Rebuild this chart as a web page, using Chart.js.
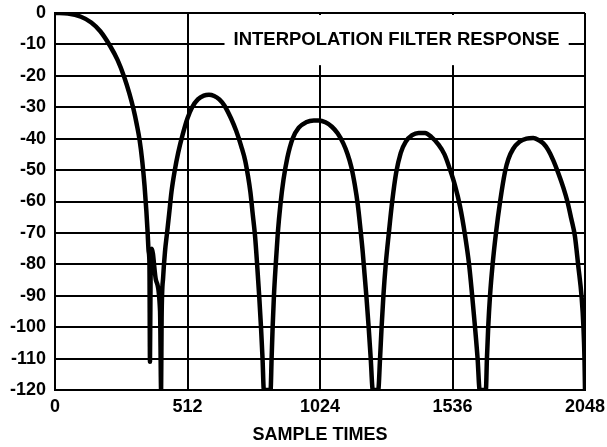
<!DOCTYPE html>
<html>
<head>
<meta charset="utf-8">
<script src="https://cdn.jsdelivr.net/npm/chart.js@4/dist/chart.umd.min.js"></script>
<style>
  html, body { margin: 0; padding: 0; background: #ffffff; }
  #wrap { width: 607px; height: 447px; }
</style>
</head>
<body>
<div id="wrap"><canvas id="c" width="607" height="447"></canvas></div>
<script>
// ---- data ----
const sampleTimes = [
  0, 50, 100, 140, 175, 213, 242, 268, 287, 303, 316, 327, 337, 346, 353, 358, 362, 365, 367, 370, 374, 390, 406, 410,
  412, 418, 425, 433, 441, 450, 462, 476, 494, 512, 530, 552, 575, 595, 615, 635, 655, 680, 700, 720, 735, 745, 755, 764, 773, 781, 789, 796, 802, 807,
  833, 837, 841, 846, 853, 861, 871, 883, 898, 918, 942, 970, 1000, 1020, 1045, 1070, 1092, 1114, 1130, 1145, 1158, 1170, 1180, 1189, 1196, 1204, 1212, 1220, 1228,
  1249, 1256, 1262, 1269, 1278, 1290, 1303, 1318, 1336, 1355, 1380, 1405, 1430, 1455, 1481, 1505, 1525, 1546, 1565, 1584, 1600, 1612, 1623, 1633, 1641,
  1665, 1669, 1674, 1681, 1691, 1704, 1720, 1739, 1752, 1770, 1795, 1822, 1848, 1870, 1887, 1905, 1925, 1945, 1964, 1980, 1995, 2009, 2022, 2035, 2042, 2046, 2048
];
const responseDb = [
  0, -0.2, -1.2, -3, -5.8, -10.5, -15, -20.5, -25.5, -30.5, -35.5, -40.5, -47, -55, -63, -70, -76, -80, -111, -77, -75, -85, -95, -120,
  -97, -84, -76, -70, -64, -57, -50.5, -44.5, -38.5, -33.5, -30, -27.5, -26.3, -26, -26.4, -27.5, -29.5, -33.5, -37.5, -42.5, -47, -51.5, -57, -64, -71, -80, -90, -100, -110, -120,
  -120, -110, -100, -90, -80, -70, -61, -53, -46, -40, -36.5, -34.8, -34.2, -34.2, -34.8, -36.2, -38.3, -41.5, -44.8, -49, -54.5, -61, -68.5, -76, -83, -91, -100, -110, -120,
  -120, -110, -100, -90, -80, -70, -60, -51, -44.5, -41, -38.9, -38.2, -38.2, -39.5, -41.8, -45, -49.5, -55, -61.5, -70.5, -80, -90, -100, -110, -120,
  -120, -110, -100, -90, -80, -70, -60, -50.5, -46.5, -43.3, -41, -40, -39.8, -40.5, -41.5, -43.5, -46.8, -51, -55.5, -60, -65.5, -71, -80.5, -90.5, -100, -110, -120
];
const xTickValues = [0, 512, 1024, 1536, 2048];
const yTickValues = [0, -10, -20, -30, -40, -50, -60, -70, -80, -90, -100, -110, -120];
const plotTitle = 'INTERPOLATION FILTER RESPONSE';
const xAxisTitle = 'SAMPLE TIMES';

const points = sampleTimes.map((s, i) => ({ x: s, y: responseDb[i] }));
const FONT = '"Liberation Sans", Arial, Helvetica, sans-serif';

const titleBoxPlugin = {
  id: 'titleBox',
  beforeDatasetsDraw(chart) {
    const { ctx, scales } = chart;
    const xs = scales.x, ys = scales.y;
    const left = xs.getPixelForValue(655);
    const right = xs.getPixelForValue(1985);
    const top = ys.getPixelForValue(0) + 2;
    const bottom = ys.getPixelForValue(-16.6);
    ctx.save();
    ctx.fillStyle = '#ffffff';
    ctx.fillRect(left, top, right - left, bottom - top);
    ctx.fillStyle = '#000000';
    ctx.font = 'bold 18.5px ' + FONT;
    ctx.textAlign = 'center';
    ctx.textBaseline = 'middle';
    ctx.fillText(plotTitle, (left + right) / 2, ys.getPixelForValue(-8.6));
    ctx.restore();
  }
};

new Chart(document.getElementById('c'), {
  type: 'line',
  data: {
    datasets: [{
      data: points,
      borderColor: '#000000',
      borderWidth: 4.5,
      pointRadius: 0,
      fill: false,
      cubicInterpolationMode: 'monotone',
      borderJoinStyle: 'round'
    }]
  },
  options: {
    responsive: false,
    animation: false,
    devicePixelRatio: 1,
    layout: { padding: { left: 0, right: 22, top: 13, bottom: 0 } },
    plugins: { legend: { display: false }, tooltip: { enabled: false }, title: { display: false } },
    scales: {
      x: {
        type: 'linear',
        min: 0, max: 2048,
        afterBuildTicks(scale) { scale.ticks = xTickValues.map(v => ({ value: v })); },
        afterFit(scale) { scale.height = 57; scale.paddingRight = 0; scale.paddingLeft = 0; },
        grid: { color: '#000000', lineWidth: 2, drawTicks: false },
        border: { color: '#000000', width: 2 },
        ticks: {
          color: '#000000', padding: 6, maxRotation: 0, autoSkip: false,
          callback: (v) => String(v),
          font: { family: FONT, size: 18, weight: 'bold' }
        },
        title: {
          display: true, text: xAxisTitle, color: '#000000',
          padding: { top: 0, bottom: 1 },
          font: { family: FONT, size: 18, weight: 'bold' }
        }
      },
      y: {
        type: 'linear',
        min: -120, max: 0,
        afterBuildTicks(scale) { scale.ticks = yTickValues.map(v => ({ value: v })); },
        afterFit(scale) { scale.width = 55; scale.paddingTop = 0; scale.paddingBottom = 0; },
        grid: { color: '#000000', lineWidth: 2, drawTicks: false },
        border: { color: '#000000', width: 2 },
        ticks: {
          color: '#000000', padding: 9, autoSkip: false,
          callback: (v) => String(v),
          font: { family: FONT, size: 18, weight: 'bold' }
        }
      }
    }
  },
  plugins: [titleBoxPlugin]
});
</script>
</body>
</html>
